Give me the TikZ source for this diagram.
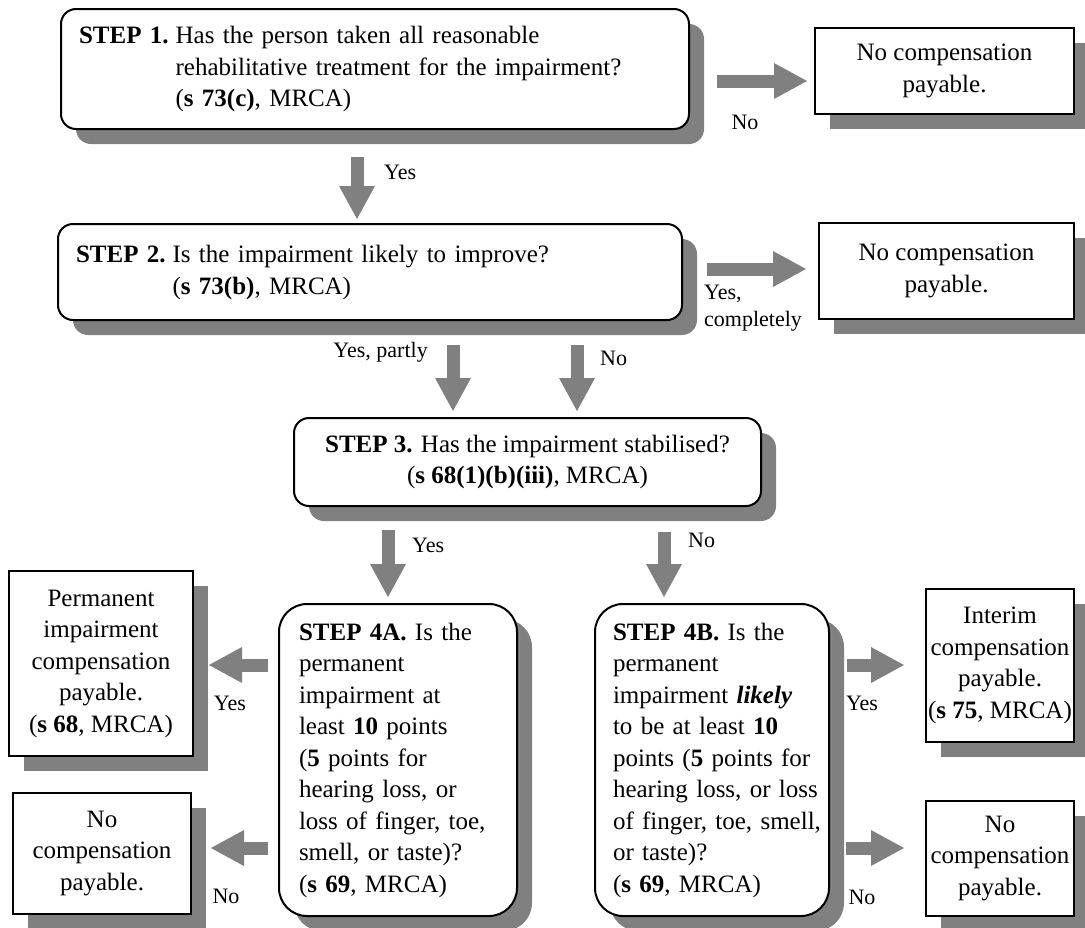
\documentclass[tikz,border=0pt]{standalone}
\usepackage{fontspec}
\setmainfont{Liberation Serif}
\usetikzlibrary{shadows,arrows.meta}
\definecolor{shade}{HTML}{808080}
\begin{document}
\begin{tikzpicture}[x=1pt,y=-1pt,
  basebox/.style={draw=black, line width=2pt, fill=white, inner ysep=0pt,
    drop shadow={shadow xshift=15pt, shadow yshift=-15pt, fill=shade, opacity=1},
    font=\fontsize{25}{31.5}\selectfont, anchor=north west},
  stepbox/.style={basebox, rounded corners=15pt, align=left},
  tallbox/.style={basebox, rounded corners=28pt, align=left},
  endbox/.style={basebox, align=center, inner xsep=0pt},
  flow/.style={draw=shade, line width=13pt,
    -{Triangle[length=33pt 0 0, width=36pt 0 0, line width=0pt]}},
  lab/.style={font=\fontsize{22}{27}\selectfont, inner sep=0pt}
]
\useasboundingbox (0,0) rectangle (1085,927);

% question boxes
\node[stepbox, inner xsep=18pt, text width=592pt, minimum height=120pt] (s1) at (60,8)
  {\begin{tabular}{@{}l@{\hspace{7pt}}l@{}}
   \textbf{STEP 1.}& Has the person taken all reasonable\\
   & rehabilitative treatment for the impairment?\\
   & (\textbf{s 73(c)}, MRCA)
   \end{tabular}};
\node[stepbox, inner xsep=18pt, text width=588pt, minimum height=96pt] (s2) at (57,223)
  {\begin{tabular}{@{}l@{\hspace{7pt}}l@{}}
   \textbf{STEP 2.}& Is the impairment likely to improve?\\
   & (\textbf{s 73(b)}, MRCA)
   \end{tabular}};
\node[basebox, rounded corners=15pt, align=center, minimum width=467pt, minimum height=88pt] (s3) at (293,417)
  {\textbf{STEP 3.} Has the impairment stabilised?\\(\textbf{s 68(1)(b)(iii)}, MRCA)};
\node[tallbox, inner xsep=20pt, text width=198pt, minimum height=312pt] (s4a) at (278,603)
  {\begin{tabular}{@{}l@{}}
   \textbf{STEP 4A.} Is the\\permanent\\impairment at\\least \textbf{10} points\\(\textbf{5} points for\\hearing loss, or\\loss of finger, toe,\\smell, or taste)?\\(\textbf{s 69}, MRCA)
   \end{tabular}};
\node[tallbox, inner xsep=18pt, text width=198pt, minimum height=312pt] (s4b) at (594,603)
  {\begin{tabular}{@{}l@{}}
   \textbf{STEP 4B.} Is the\\permanent\\impairment \textbf{\textit{likely}}\\to be at least \textbf{10}\\points (\textbf{5} points for\\hearing loss, or loss\\of finger, toe, smell,\\or taste)?\\(\textbf{s 69}, MRCA)
   \end{tabular}};

% outcome boxes
\node[endbox, minimum width=259pt, minimum height=86pt] (o1) at (814,27)
  {No compensation\\payable.};
\node[endbox, minimum width=255pt, minimum height=96pt] (o2) at (818,222)
  {No compensation\\payable.};
\node[endbox, minimum width=184pt, minimum height=185pt] (o3) at (8,570)
  {Permanent\\impairment\\compensation\\payable.\\(\textbf{s 68}, MRCA)};
\node[endbox, minimum width=178pt, minimum height=121pt] (o4) at (12,792)
  {No\\compensation\\payable.};
\node[endbox, minimum width=148pt, minimum height=153pt] (o5) at (925,588)
  {Interim\\compensation\\payable.\\(\textbf{s 75}, MRCA)};
\node[endbox, minimum width=148pt, minimum height=115pt] (o6) at (925,800)
  {No\\compensation\\payable.};

% arrow end points
\coordinate (a1s) at (717,81);   \coordinate (a1e) at (807,81);
\coordinate (a2s) at (357,157);  \coordinate (a2e) at (357,219);
\coordinate (a3s) at (707,269);  \coordinate (a3e) at (806,269);
\coordinate (a4s) at (453,345);  \coordinate (a4e) at (453,411);
\coordinate (a5s) at (577,345);  \coordinate (a5e) at (577,411);
\coordinate (a6s) at (388,530);  \coordinate (a6e) at (388,597);
\coordinate (a7s) at (664,532);  \coordinate (a7e) at (664,597);
\coordinate (a8s) at (268,665);  \coordinate (a8e) at (209,665);
\coordinate (a9s) at (268,848);  \coordinate (a9e) at (211,848);
\coordinate (a10s) at (847,665); \coordinate (a10e) at (904,665);
\coordinate (a11s) at (846,848); \coordinate (a11e) at (904,848);

\foreach \i in {1,...,11} \draw[flow] (a\i s) -- (a\i e);

% answer labels
\node[lab] (l1) at (745,122) {No};
\node[lab, anchor=west] (l2) at (384,172) {Yes};
\node[lab, anchor=north west, align=left] (l3) at (704,285) {Yes,\\completely};
\node[lab, anchor=east] (l4) at (428,352) {Yes, partly};
\node[lab, anchor=west] (l5) at (600,358) {No};
\node[lab, anchor=west] (l6) at (412,545) {Yes};
\node[lab, anchor=west] (l7) at (688,540) {No};
\node[lab] (l8) at (230,703) {Yes};
\node[lab] (l9) at (226,896) {No};
\node[lab] (l10) at (862,703) {Yes};
\node[lab] (l11) at (862,897) {No};
\end{tikzpicture}
\end{document}
